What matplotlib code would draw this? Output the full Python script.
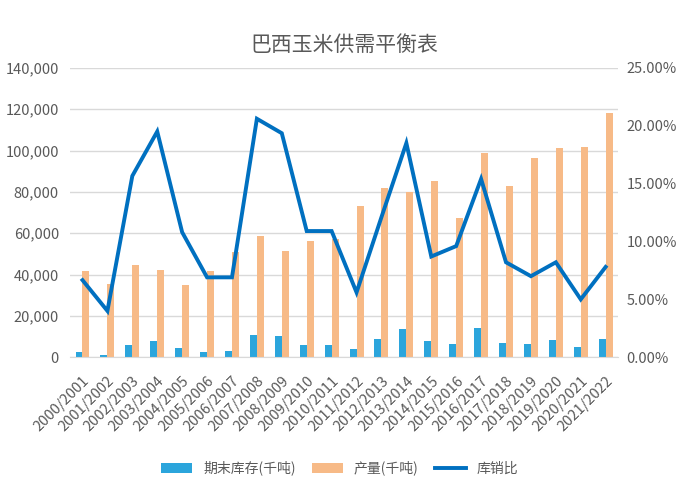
import numpy as np
import matplotlib
matplotlib.use('Agg')
import matplotlib.pyplot as plt
from matplotlib.ticker import FuncFormatter

plt.rcParams['font.family'] = ['Noto Sans CJK SC', 'DejaVu Sans']

# 年度
years = ['2000/2001', '2001/2002', '2002/2003', '2003/2004', '2004/2005', '2005/2006',
         '2006/2007', '2007/2008', '2008/2009', '2009/2010', '2010/2011', '2011/2012',
         '2012/2013', '2013/2014', '2014/2015', '2015/2016', '2016/2017', '2017/2018',
         '2018/2019', '2019/2020', '2020/2021', '2021/2022']

# 期末库存（千吨）
stocks = [2500, 1300, 6100, 7700, 4300, 2500, 3200, 10600, 10100, 6100, 6100,
          4200, 9000, 13600, 7700, 6600, 14200, 7100, 6600, 8200, 5000, 9000]

# 产量（千吨）
production = [41500, 35200, 44700, 42100, 34900, 41800, 51000, 58600, 51300, 56300, 57400,
              73100, 81700, 80000, 85200, 67500, 98600, 82800, 96200, 101400, 101900, 118000]

# 库存消费比（%）
ratio = [6.66, 4.0, 15.66, 19.5, 10.8, 6.9, 6.9, 20.6, 19.35, 10.9, 10.9,
         5.6, 12.1, 18.5, 8.7, 9.6, 15.4, 8.2, 7.0, 8.2, 5.0, 7.8]

grey = '#595959'
x = np.arange(len(years))
w = 0.28

fig = plt.figure(figsize=(6.8, 4.88), dpi=100)
ax = fig.add_axes([0.103, 0.268, 0.806, 0.593])
ax2 = ax.twinx()

b1 = ax.bar(x - w / 2, stocks, width=w, color='#2BA5DC', label='期末库存(千吨)', zorder=2)
b2 = ax.bar(x + w / 2, production, width=w, color='#F7BA87', label='产量(千吨)', zorder=2)
l1, = ax2.plot(x, np.array(ratio) / 100, color='#0070C0', linewidth=2.8, label='库销比',
               solid_joinstyle='miter')

ax.set_xlim(-0.5, len(years) - 0.5)
ax.set_ylim(0, 140000)
ax.set_yticks(np.arange(0, 140001, 20000))
ax.yaxis.set_major_formatter(FuncFormatter(lambda v, p: f'{int(v):,}'))
ax2.set_ylim(0, 0.25)
ax2.set_yticks(np.arange(0, 0.2501, 0.05))
ax2.yaxis.set_major_formatter(FuncFormatter(lambda v, p: f'{v * 100:.2f}%'))

ax.grid(axis='y', color='#D9D9D9', linewidth=1, zorder=0)
ax.set_axisbelow(True)
for a in (ax, ax2):
    for s in a.spines.values():
        s.set_visible(False)
    a.tick_params(length=0, colors=grey, labelsize=10.5)
ax.spines['bottom'].set_visible(True)
ax.spines['bottom'].set_color('#D9D9D9')

ax.set_xticks(x)
ax.set_xticklabels(years, rotation=45, ha='right', rotation_mode='anchor', fontsize=10.5, color=grey)
ax.tick_params(axis='x', pad=12)
ax.tick_params(axis='y', pad=8)
ax2.tick_params(axis='y', pad=6)

ax.set_title('巴西玉米供需平衡表', fontsize=15, color=grey, pad=12)

fig.legend(handles=[b1, b2, l1], loc='lower center', bbox_to_anchor=(0.5, 0.0), ncol=3,
           frameon=False, fontsize=10, labelcolor=grey, handlelength=2.2, columnspacing=1.2)

plt.savefig('out.png', dpi=100)
